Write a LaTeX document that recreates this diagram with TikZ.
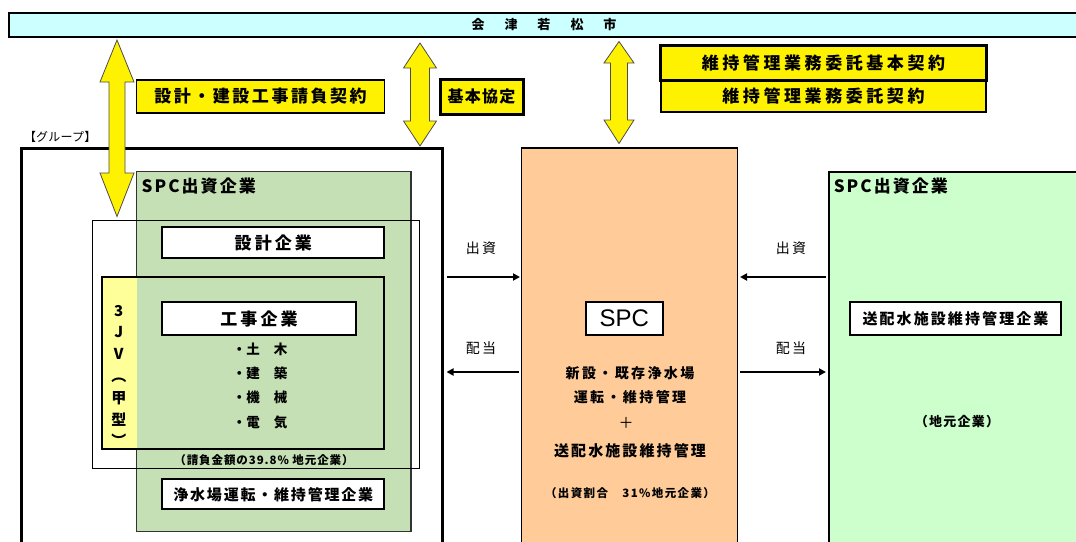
\documentclass[tikz,border=0pt]{standalone}
\usepackage{fontspec}
\setmainfont{Noto Sans CJK JP}
\newfontfamily\arialf{Liberation Sans}
\usetikzlibrary{arrows.meta}
\definecolor{barcyan}{HTML}{CCFFFF}
\definecolor{lgreen}{HTML}{C5E0B4}
\definecolor{paleyel}{HTML}{FFFF99}
\definecolor{spcor}{HTML}{FFCC99}
\definecolor{rgreen}{HTML}{CCFFCC}
\newcommand\fsz[2]{\fontsize{#1}{#1}\selectfont\addfontfeature{LetterSpace=#2}}
\newcommand\yarrow[7]{\draw[bigarrow] (#1,#4) -- (#1+#3,#5) -- (#1+#2,#5) -- (#1+#2,#6) -- (#1+#3,#6) -- (#1,#7) -- (#1-#3,#6) -- (#1-#2,#6) -- (#1-#2,#5) -- (#1-#3,#5) -- cycle;}
\begin{document}
\begin{tikzpicture}[x=1pt,y=-1pt,
  box/.style={draw, rectangle, inner sep=0pt, outer sep=0pt, line width=1.5pt},
  txt/.style={inner sep=0pt, outer sep=0pt},
  bigarrow/.style={fill=yellow, draw=black!70, line width=0.8pt, line join=miter},
  flow/.style={-{Triangle[length=7pt,width=7pt]}, line width=1.8pt},
]
\useasboundingbox (0,0) rectangle (1076,541);
\clip (0,0) rectangle (1076,541);

% top bar
\node[box, fill=barcyan, line width=2.5pt, minimum width=1090pt, minimum height=24pt] (city) at (554,25) {};
\node[txt] (citytxt) at (544,25) {\bfseries\fsz{13}{0}会\hspace{20pt}津\hspace{20pt}若\hspace{20pt}松\hspace{20pt}市};

% contract boxes
\node[box, fill=yellow, minimum width=248pt, minimum height=33pt] (c1) at (260.5,96.5) {};
\node[txt] at (c1) {\bfseries\fsz{17}{15}設計・建設工事請負契約};
\node[box, fill=yellow, line width=3pt, minimum width=83pt, minimum height=35pt] (c2) at (481.5,96.5) {};
\node[txt] at (c2) {\bfseries\fsz{16}{8}基本協定};
\node[box, fill=yellow, minimum width=325pt, minimum height=32pt] (c4) at (823.5,96) {};
\node[txt] at (c4) {\bfseries\fsz{17}{21}維持管理業務委託契約};
\node[box, fill=yellow, line width=3pt, minimum width=326pt, minimum height=35pt] (c3) at (823.5,62.5) {};
\node[txt] at (c3) {\bfseries\fsz{17}{21}維持管理業務委託基本契約};

% group
\node[txt, anchor=west] (grplbl) at (24,137) {\fsz{12}{2}【グループ】};
\node[box, fill=white, line width=3pt, minimum width=421pt, minimum height=412pt] (grp) at (231.5,354) {};
\node[box, fill=lgreen, draw=black!80, minimum width=274.3pt, minimum height=360pt] (lgr) at (273.85,351.7) {};
\node[txt, anchor=west] at (141.7,186) {\bfseries\fsz{17}{12}SPC出資企業};
\node[box, line width=1pt, minimum width=327pt, minimum height=248pt] (jvo) at (255.5,344) {};
\fill[paleyel] (102,277) rectangle (136.7,449);
\node[box, line width=2.5pt, minimum width=282pt, minimum height=172pt] (jv) at (243,363) {};
\node[box, fill=white, line width=2pt, minimum width=222pt, minimum height=31pt] (sekkei) at (273.3,242.8) {};
\node[txt] at (sekkei) {\bfseries\fsz{17}{18}設計企業};
\node[box, fill=white, line width=2pt, minimum width=193.4pt, minimum height=32.7pt] (kouji) at (259,318.6) {};
\node[txt] at (kouji) {\bfseries\fsz{17}{18}工事企業};
\node[txt] at (260,349.3) {\bfseries\fsz{13.5}{2}・土　木};
\node[txt] at (260,373.3) {\bfseries\fsz{13.5}{2}・建　築};
\node[txt] at (260,397.7) {\bfseries\fsz{13.5}{2}・機　械};
\node[txt] at (260,422.7) {\bfseries\fsz{13.5}{2}・電　気};
\node[txt] at (264,460) {\bfseries\fsz{11.5}{8}（請負金額の39.8\% 地元企業）};
\node[box, fill=white, line width=2pt, minimum width=222pt, minimum height=30pt] (jousui) at (273.3,494.3) {};
\node[txt] at (jousui) {\bfseries\fsz{15}{12}浄水場運転・維持管理企業};
\node[txt, align=center, font={\bfseries\fontsize{15}{21.8}\selectfont}] (jvtxt) at (118.8,376) {3\\J\\V\\︵\\甲\\型\\︶};

% SPC
\node[box, fill=spcor, minimum width=216pt, minimum height=412pt] (spc) at (629.5,354) {};
\node[box, fill=white, line width=2pt, minimum width=77pt, minimum height=33pt] (spclbl) at (624.2,318.5) {};
\node[txt] at (spclbl) {\arialf\fontsize{24}{24}\selectfont SPC};
\node[txt] at (630,373) {\bfseries\fsz{14}{17}新設・既存浄水場};
\node[txt] at (630,397) {\bfseries\fsz{14}{17}運転・維持管理};
\node[txt] at (626,422.5) {\fsz{15}{0}＋};
\node[txt] at (630,451) {\bfseries\fsz{15}{14}送配水施設維持管理};
\node[txt] at (630,493) {\bfseries\fsz{11.5}{12}（出資割合　31\%地元企業）};

% right green
\node[box, fill=rgreen, minimum width=261pt, minimum height=388pt] (rgr) at (959.5,366) {};
\node[txt, anchor=west] at (833.8,186) {\bfseries\fsz{17}{12}SPC出資企業};
\node[box, fill=white, line width=2pt, minimum width=211pt, minimum height=33pt] (souhai) at (955.5,318.5) {};
\node[txt] at (souhai) {\bfseries\fsz{15}{14}送配水施設維持管理企業};
\node[txt] at (957,422) {\bfseries\fsz{13}{10}（地元企業）};

% flows
\coordinate (ya) at (0,277);
\coordinate (yb) at (0,372);
\node[txt] at (481,248) {\fsz{14}{15}出資};
\node[txt] at (481,348.5) {\fsz{14}{15}配当};
\node[txt] at (791,248) {\fsz{14}{15}出資};
\node[txt] at (791,348.5) {\fsz{14}{15}配当};
\draw[flow, shorten <=4.5pt, shorten >=1.5pt] (grp.east |- ya) -- (spc.west |- ya);
\draw[flow, shorten <=2.5pt, shorten >=4.5pt] (spc.west |- yb) -- (grp.east |- yb);
\draw[flow, shorten <=3.5pt, shorten >=2.5pt] (rgr.west |- ya) -- (spc.east |- ya);
\draw[flow, shorten <=2.5pt, shorten >=3pt] (spc.east |- yb) -- (rgr.west |- yb);

% big yellow double arrows
\yarrow{117}{8}{17}{40}{82}{173}{216.5}
\yarrow{420}{9.5}{16.5}{43}{68}{121}{146}
\yarrow{619}{8.5}{15}{41.5}{63}{120}{143.5}
\end{tikzpicture}
\end{document}
